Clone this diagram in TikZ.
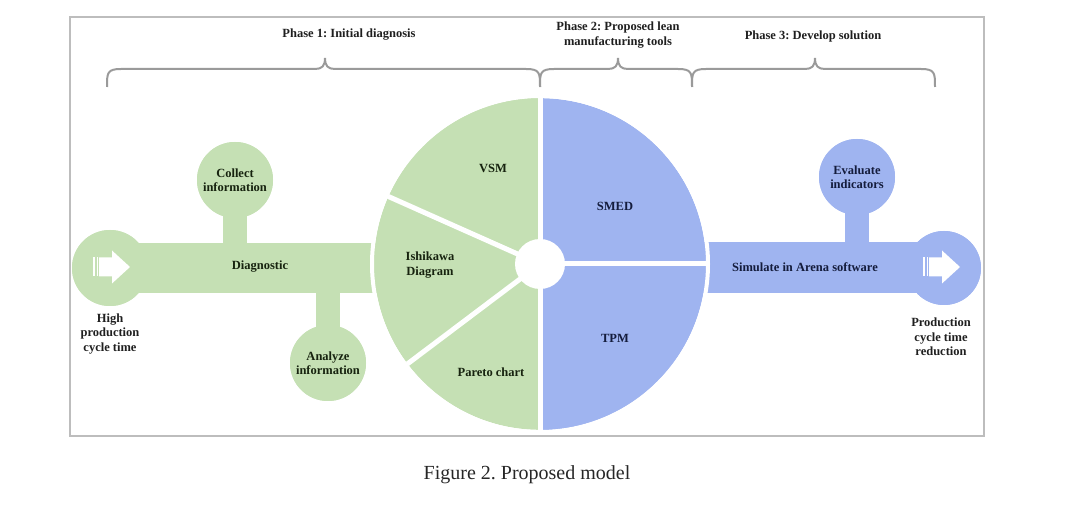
\documentclass[tikz,border=0pt]{standalone}
\usepackage{fontspec}
\setmainfont{Liberation Serif}
\frenchspacing
\definecolor{lgreen}{HTML}{C5E0B4}
\definecolor{lblue}{HTML}{9FB4F0}
\definecolor{gtext}{HTML}{17230F}
\definecolor{btext}{HTML}{141C3C}
\definecolor{framegray}{HTML}{BDBDBD}
\definecolor{bracegray}{HTML}{9A9A9A}
\tikzset{
  lbl/.style={font=\bfseries\fontsize{12.5}{14.5}\selectfont, align=center, inner sep=0pt},
  glbl/.style={lbl, text=gtext},
  blbl/.style={lbl, text=btext},
  phase/.style={lbl, text=black!88},
  gdisc/.style={circle, fill=lgreen, minimum size=76pt, inner sep=0pt},
  bdisc/.style={circle, fill=lblue, minimum size=76pt, inner sep=0pt},
  gbar/.style={draw=lgreen, line width=50pt},
  bbar/.style={draw=lblue, line width=51pt},
  gstem/.style={draw=lgreen, line width=24pt},
  bstem/.style={draw=lblue, line width=24pt},
  divider/.style={draw=white, line width=5pt},
  bracestyle/.style={draw=bracegray, line width=2pt},
}
\newcommand{\phbrace}[3]{%
  \draw[bracestyle] (#1,417) .. controls (#1,431) and (#1,435) .. (#1+14,435)
    -- (#2-10,435) .. controls (#2-3,435) and (#2,438) .. (#2,446)
    .. controls (#2,438) and (#2+3,435) .. (#2+10,435)
    -- (#3-14,435) .. controls (#3,435) and (#3,431) .. (#3,417);}
\newcommand{\stripedarrow}[2]{% x of left end, y centre
  \fill[white] (#1,#2-9.5) rectangle (#1+2,#2+9.5);
  \fill[white] (#1+3.5,#2-9.5) rectangle (#1+5,#2+9.5);
  \fill[white] (#1+6,#2-9.5) -- (#1+19,#2-9.5) -- (#1+19,#2-16.5) -- (#1+37,#2)
     -- (#1+19,#2+16.5) -- (#1+19,#2+9.5) -- (#1+6,#2+9.5) -- cycle;}
\begin{document}
\begin{tikzpicture}[x=1pt,y=1pt]
\useasboundingbox (0,0) rectangle (1080,504);
% frame
\draw[framegray, line width=1.5pt] (70,68) rectangle (984,487);
% phase headers
\node[phase] (p1) at (349,469) {Phase 1: Initial diagnosis};
\node[phase] (p2) at (618,469) {Phase 2: Proposed lean\\manufacturing tools};
\node[phase] (p3) at (813,468) {Phase 3: Develop solution};
\phbrace{107}{325}{540}
\phbrace{540}{618}{692}
\phbrace{692}{815}{935}
% nodes (discs)
\node[gdisc] (hi) at (110,236) {};
\node[gdisc] (ci) at (235,324) {};
\node[gdisc] (ai) at (328,141) {};
\node[bdisc, minimum size=74pt] (pr) at (944,236) {};
\node[bdisc] (ei) at (857,327) {};
\node[circle, minimum size=332pt, inner sep=0pt] (wheel) at (540,240) {};
% bars and stems
\path[gbar] (hi.center) -- (hi.center -| wheel.center);
\path[bbar] (pr.center -| wheel.center) -- (pr.center);
\path[gstem] (ci.center) -- (ci.center |- hi.center);
\path[gstem] (ai.center) -- (ai.center |- hi.center);
\path[bstem] (ei.center) -- (ei.center |- pr.center);
% redraw discs on top
\fill[lgreen] (hi) circle (38pt);
\fill[lgreen] (ci) circle (38pt);
\fill[lgreen] (ai) circle (38pt);
\fill[lblue] (pr) circle (37pt);
\fill[lblue] (ei) circle (38pt);
% wheel
\fill[lgreen] (wheel.center) -- (wheel.90) arc (90:270:166pt) -- cycle;
\fill[lblue] (wheel.center) -- (wheel.-90) arc (-90:90:166pt) -- cycle;
\draw[white, line width=4pt] (wheel) circle (168pt);
\path[divider] (wheel.90) -- (wheel.-90);
\path[divider] (wheel.center) -- (wheel.0);
\path[divider] (wheel.center) -- (wheel.156);
\path[divider] (wheel.center) -- (wheel.217.8);
\fill[white] (wheel) circle (25pt);
% arrow icons
\stripedarrow{93}{237}
\stripedarrow{923}{237}
% labels
\node[glbl] (lci) at (ci) {Collect\\information};
\node[glbl] (lai) at (ai) {Analyze\\information};
\node[glbl] (ldg) at (260,237) {Diagnostic};
\node[phase] (lhi) at (110,170) {High\\production\\cycle time};
\node[glbl] (lvsm) at (493,336) {VSM};
\node[glbl] (lish) at (430,239) {Ishikawa\\Diagram};
\node[glbl] (lpar) at (491,132) {Pareto chart};
\node[blbl] (lsmed) at (615,298) {SMED};
\node[blbl] (ltpm) at (615,166) {TPM};
\node[blbl] (lsim) at (805,237) {Simulate in Arena software};
\node[blbl] (lei) at (ei) {Evaluate\\indicators};
\node[phase] (lpr) at (941,167) {Production\\cycle time\\reduction};
% caption
\node[font=\fontsize{20}{24}\selectfont, text=black!85] (cap) at (527,29) {Figure 2. Proposed model};
\end{tikzpicture}
\end{document}
